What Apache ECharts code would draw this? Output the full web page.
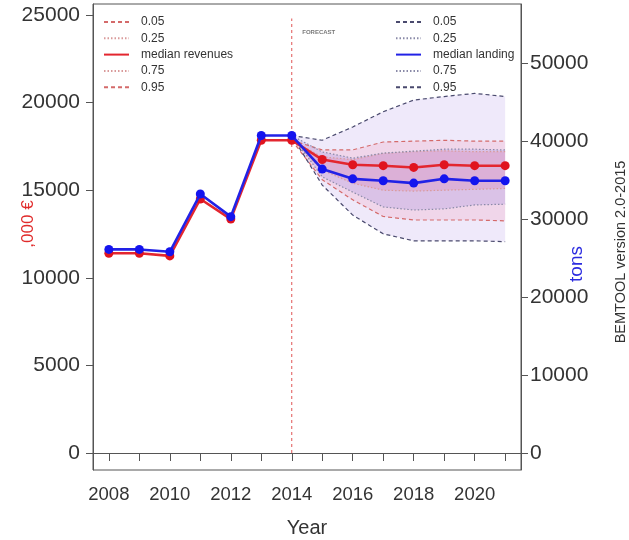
<!DOCTYPE html>
<html>
<head>
<meta charset="utf-8">
<script src="https://cdn.jsdelivr.net/npm/echarts@6/dist/echarts.min.js"></script>
<style>
  html, body { margin: 0; padding: 0; background: #ffffff; }
  #chart { width: 629px; height: 540px; }
</style>
</head>
<body>
<div id="chart"></div>
<script>
// ---- data -------------------------------------------------------------
const years = [2008, 2009, 2010, 2011, 2012, 2013, 2014, 2015, 2016, 2017, 2018, 2019, 2020, 2021];
const yearLabels = [2008, 2010, 2012, 2014, 2016, 2018, 2020];

// revenues, thousand euro (left axis)
const revenueMedian = [11400, 11400, 11250, 14500, 13350, 17850, 17850, 16750, 16450, 16400, 16300, 16450, 16400, 16400];
// landings, tons (right axis)
const landingMedian = [26100, 26100, 25800, 33200, 30300, 40700, 40700, 36400, 35150, 34900, 34600, 35150, 34900, 34900];

// projection quantiles, 2014-2021
const forecastYears = [2014, 2015, 2016, 2017, 2018, 2019, 2020, 2021];
const revenueQ05 = [17850, 15600, 14450, 13500, 13300, 13300, 13300, 13250];
const revenueQ25 = [17850, 16150, 15400, 15000, 14950, 15000, 15050, 15100];
const revenueQ75 = [17850, 16900, 16750, 17100, 17200, 17250, 17200, 17200];
const revenueQ95 = [17850, 17300, 17300, 17750, 17800, 17850, 17800, 17800];
const landingQ05 = [40700, 34350, 30500, 28100, 27200, 27200, 27200, 27100];
const landingQ25 = [40700, 35400, 33450, 31550, 31150, 31300, 31800, 31900];
const landingQ75 = [40700, 38600, 37800, 38450, 38700, 38950, 38950, 38850];
const landingQ95 = [40700, 40100, 41800, 43750, 45250, 45700, 46100, 45700];

const revenueTicks = [0, 5000, 10000, 15000, 20000, 25000];
const landingTicks = [0, 10000, 20000, 30000, 40000, 50000];

const forecastStart = 2014;
const forecastLineTop = 24800;

// ---- styling ------------------------------------------------------------
const FONT = '"Liberation Sans", Arial, Helvetica, sans-serif';
const AXIS_COLOR = '#555555';
const TEXT_COLOR = '#333333';

const legendText = {
  'rev 0.05': '0.05', 'rev 0.25': '0.25', 'median revenues': 'median revenues',
  'rev 0.75': '0.75', 'rev 0.95': '0.95',
  'land 0.05': '0.05', 'land 0.25': '0.25', 'median landing': 'median landing',
  'land 0.75': '0.75', 'land 0.95': '0.95'
};

function pairs(xs, ys) { return xs.map((x, i) => [x, ys[i]]); }

// filled envelope between two quantile curves
function band(yAxisIndex, lower, upper, color) {
  return {
    type: 'custom',
    yAxisIndex: yAxisIndex,
    silent: true,
    z: 1,
    data: forecastYears.map((y, i) => [y, lower[i], upper[i]]),
    encode: { x: 0, y: [1, 2] },
    renderItem: function (params, api) {
      if (params.dataIndex !== 0) return null;
      const top = forecastYears.map((y, i) => api.coord([y, upper[i]]));
      const bottom = forecastYears.map((y, i) => api.coord([y, lower[i]])).reverse();
      return { type: 'polygon', shape: { points: top.concat(bottom) }, style: { fill: color } };
    }
  };
}

function quantileLine(name, yAxisIndex, values, color, dash) {
  return {
    type: 'line',
    name: name,
    yAxisIndex: yAxisIndex,
    data: pairs(forecastYears, values),
    symbol: 'none',
    silent: true,
    z: 3,
    itemStyle: { color: color },
    lineStyle: { color: color, width: 1.2, type: dash }
  };
}

const DASH = [4, 3];
const DOT = [1.5, 2];

function legendBlock(left, names) {
  return {
    orient: 'vertical', left: left, top: 11,
    itemWidth: 25, itemHeight: 14, itemGap: 4.3,
    selectedMode: false,
    itemStyle: { opacity: 0 },
    data: names,
    formatter: n => legendText[n],
    textStyle: { fontSize: 12, color: TEXT_COLOR, fontFamily: FONT, padding: [0, 0, 0, 7] }
  };
}

const option = {
  animation: false,
  backgroundColor: '#ffffff',
  textStyle: { fontFamily: FONT },
  grid: {
    left: 93, right: 108, top: 4, bottom: 70,
    show: true, borderColor: AXIS_COLOR, borderWidth: 1,
    backgroundColor: 'transparent',
    outerBoundsMode: 'none'
  },
  legend: [
    legendBlock(98, ['rev 0.05', 'rev 0.25', 'median revenues', 'rev 0.75', 'rev 0.95']),
    legendBlock(390, ['land 0.05', 'land 0.25', 'median landing', 'land 0.75', 'land 0.95'])
  ],
  xAxis: {
    type: 'value',
    min: 2007.48, max: 2021.52,
    axisLine: { show: true, lineStyle: { color: AXIS_COLOR } },
    axisTick: { show: true, length: 8, customValues: years, lineStyle: { color: AXIS_COLOR } },
    axisLabel: { customValues: yearLabels, formatter: v => String(v), fontSize: 18.5, color: TEXT_COLOR, margin: 15, fontFamily: FONT },
    splitLine: { show: false },
    name: 'Year', nameLocation: 'middle', nameGap: 48,
    nameTextStyle: { fontSize: 20, color: TEXT_COLOR, fontFamily: FONT }
  },
  yAxis: [
    {
      type: 'value', position: 'left',
      min: -970, max: 25628,
      axisLine: { show: true, lineStyle: { color: AXIS_COLOR } },
      axisTick: { show: true, length: 7, customValues: revenueTicks, lineStyle: { color: AXIS_COLOR } },
      axisLabel: { customValues: revenueTicks, formatter: v => String(v), fontSize: 21, color: TEXT_COLOR, margin: 13, fontFamily: FONT },
      splitLine: { show: false }
    },
    {
      type: 'value', position: 'right',
      min: -2179, max: 57564,
      axisLine: { show: true, lineStyle: { color: AXIS_COLOR } },
      axisTick: { show: true, length: 7, customValues: landingTicks, lineStyle: { color: AXIS_COLOR } },
      axisLabel: { customValues: landingTicks, formatter: v => String(v), fontSize: 21, color: TEXT_COLOR, margin: 9, fontFamily: FONT },
      splitLine: { show: false }
    }
  ],
  graphic: [
    { type: 'text', x: 28, y: 224, rotation: Math.PI / 2,
      style: { text: ',000 €', fill: '#e02a2a', font: '17px ' + FONT, align: 'center', verticalAlign: 'middle' } },
    { type: 'text', x: 577, y: 264, rotation: Math.PI / 2,
      style: { text: 'tons', fill: '#2b2be0', font: '19px ' + FONT, align: 'center', verticalAlign: 'middle' } },
    { type: 'text', x: 621, y: 252, rotation: Math.PI / 2,
      style: { text: 'BEMTOOL version 2.0-2015', fill: TEXT_COLOR, font: '14.5px ' + FONT, align: 'center', verticalAlign: 'middle' } }
  ],
  series: [
    // envelopes
    band(1, landingQ05, landingQ95, 'rgba(120, 70, 210, 0.12)'),
    band(0, revenueQ05, revenueQ95, 'rgba(250, 90, 130, 0.13)'),
    band(1, landingQ25, landingQ75, 'rgba(70, 60, 220, 0.13)'),
    band(0, revenueQ25, revenueQ75, 'rgba(240, 60, 110, 0.13)'),

    // quantile curves
    quantileLine('rev 0.05', 0, revenueQ05, '#d46a6a', DASH),
    quantileLine('rev 0.25', 0, revenueQ25, '#d99a9a', DOT),
    quantileLine('rev 0.75', 0, revenueQ75, '#d99a9a', DOT),
    quantileLine('rev 0.95', 0, revenueQ95, '#d46a6a', DASH),
    quantileLine('land 0.05', 1, landingQ05, '#4a4a6e', DASH),
    quantileLine('land 0.25', 1, landingQ25, '#8a8aa8', DOT),
    quantileLine('land 0.75', 1, landingQ75, '#8a8aa8', DOT),
    quantileLine('land 0.95', 1, landingQ95, '#4a4a6e', DASH),

    // start of the projection period
    {
      type: 'line',
      yAxisIndex: 0,
      data: [[forecastStart, 0], [forecastStart, forecastLineTop]],
      symbol: 'none',
      silent: true,
      z: 2,
      lineStyle: { color: '#e05555', width: 1, type: [3, 3] }
    },
    {
      type: 'scatter',
      yAxisIndex: 0,
      data: [[forecastStart, forecastLineTop]],
      symbolSize: 1,
      silent: true,
      itemStyle: { color: 'rgba(0,0,0,0)' },
      label: { show: true, formatter: 'FORECAST', position: 'right', distance: 0, offset: [10, 14],
               fontSize: 6, fontWeight: 'bold', color: '#555555', fontFamily: FONT }
    },

    // medians
    {
      type: 'line',
      name: 'median revenues',
      yAxisIndex: 0,
      data: pairs(years, revenueMedian),
      symbol: 'circle', symbolSize: 9,
      z: 5,
      itemStyle: { color: '#e0141f' },
      lineStyle: { color: '#e3262f', width: 2.6 }
    },
    {
      type: 'line',
      name: 'median landing',
      yAxisIndex: 1,
      data: pairs(years, landingMedian),
      symbol: 'circle', symbolSize: 9,
      z: 6,
      itemStyle: { color: '#1414ee' },
      lineStyle: { color: '#2222e6', width: 2.6 }
    }
  ]
};

const chart = echarts.init(document.getElementById('chart'), null, { renderer: 'canvas' });
chart.setOption(option);
</script>
</body>
</html>
